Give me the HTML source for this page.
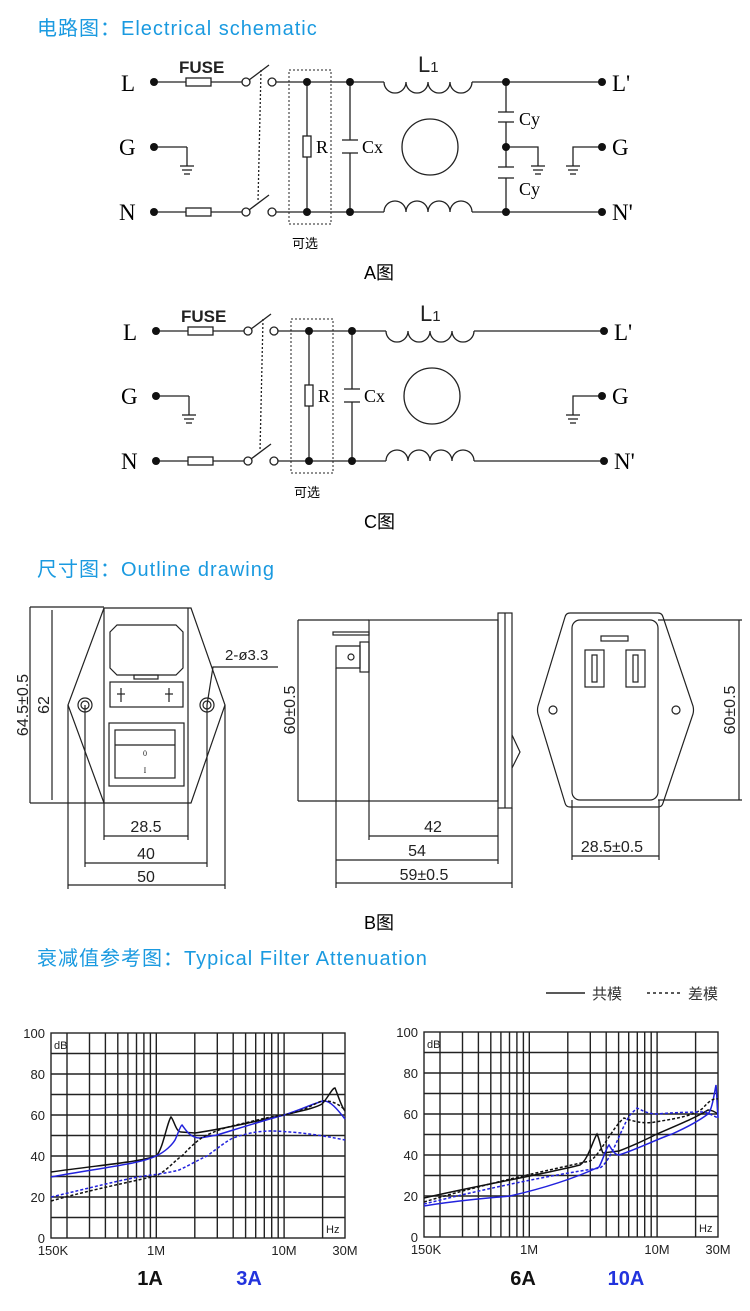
<!DOCTYPE html>
<html><head><meta charset="utf-8"><style>
html,body{margin:0;padding:0;background:#fff;}
svg{display:block;}
.t{font-family:"Liberation Sans","Noto Sans CJK SC",sans-serif;}
.s{font-family:"Liberation Serif","Noto Serif CJK SC",serif;}
.ti{letter-spacing:1px;}
</style></head><body>
<svg width="750" height="1311" viewBox="0 0 750 1311" xmlns="http://www.w3.org/2000/svg">
<defs>
<g id="gnd"><line x1="-7" y1="0" x2="7" y2="0"/><line x1="-5" y1="4" x2="5" y2="4"/><line x1="-3" y1="8" x2="3" y2="8"/></g>
<g id="coilD"><path d="M0,0 a11,11 0 0 0 22,0 a11,11 0 0 0 22,0 a11,11 0 0 0 22,0 a11,11 0 0 0 22,0" fill="none"/></g>
<g id="coilU"><path d="M0,0 a11,11 0 0 1 22,0 a11,11 0 0 1 22,0 a11,11 0 0 1 22,0 a11,11 0 0 1 22,0" fill="none"/></g>
<g id="sch" stroke="#222" stroke-width="1.3" fill="none">
 <line x1="154" y1="82" x2="186" y2="82"/><rect x="186" y="78" width="25" height="8" fill="#fff"/>
 <line x1="211" y1="82" x2="242" y2="82"/><circle cx="246" cy="82" r="4" fill="#fff"/>
 <line x1="249" y1="80" x2="269" y2="65"/>
 <circle cx="272" cy="82" r="4" fill="#fff"/><line x1="276" y1="82" x2="384" y2="82"/>
 <use href="#coilD" x="384" y="82"/><line x1="472" y1="82" x2="602" y2="82"/>
 <line x1="154" y1="212" x2="186" y2="212"/><rect x="186" y="208" width="25" height="8" fill="#fff"/>
 <line x1="211" y1="212" x2="242" y2="212"/><circle cx="246" cy="212" r="4" fill="#fff"/>
 <line x1="249" y1="210" x2="269" y2="195"/>
 <circle cx="272" cy="212" r="4" fill="#fff"/><line x1="276" y1="212" x2="384" y2="212"/>
 <use href="#coilU" x="384" y="212"/><line x1="472" y1="212" x2="602" y2="212"/>
 <line x1="261" y1="70" x2="258" y2="202" stroke-dasharray="2,2"/>
 <rect x="289" y="70" width="42" height="154" stroke-dasharray="2,2" stroke-width="1"/>
 <line x1="307" y1="82" x2="307" y2="136"/><rect x="303" y="136" width="8" height="21" fill="#fff"/><line x1="307" y1="157" x2="307" y2="212"/>
 <line x1="350" y1="82" x2="350" y2="140"/><line x1="342" y1="140" x2="358" y2="140"/><line x1="342" y1="153" x2="358" y2="153"/><line x1="350" y1="153" x2="350" y2="212"/>
 <line x1="154" y1="147" x2="187" y2="147"/><line x1="187" y1="147" x2="187" y2="166"/><use href="#gnd" x="187" y="166"/>
 <circle cx="430" cy="147" r="28"/>
</g>
<g id="dots" fill="#111">
 <circle cx="154" cy="82" r="4"/><circle cx="154" cy="147" r="4"/><circle cx="154" cy="212" r="4"/>
 <circle cx="307" cy="82" r="4"/><circle cx="307" cy="212" r="4"/><circle cx="350" cy="82" r="4"/><circle cx="350" cy="212" r="4"/>
 <circle cx="602" cy="82" r="4"/><circle cx="602" cy="212" r="4"/>
</g>
<g id="lbl">
 <text x="121" y="91" class="s" font-size="23">L</text>
 <text x="119" y="155" class="s" font-size="23">G</text>
 <text x="119" y="220" class="s" font-size="23">N</text>
 <text x="179" y="73" class="t" font-size="17" font-weight="bold" fill="#222">FUSE</text>
 <text x="316" y="153" class="s" font-size="18">R</text>
 <text x="362" y="153" class="s" font-size="18">Cx</text>
 <text x="418" y="72" class="t" font-size="22" fill="#222">L<tspan font-size="15">1</tspan></text>
 <text x="612" y="91" class="s" font-size="23">L'</text>
 <text x="612" y="220" class="s" font-size="23">N'</text>
 <text x="292" y="248" class="t" font-size="13">可选</text>
</g>
</defs>

<text x="37" y="35" class="t ti" font-size="20" fill="#1a9ae0">电路图：Electrical schematic</text>
<text x="37" y="576" class="t ti" font-size="20" fill="#1a9ae0">尺寸图：Outline drawing</text>
<text x="37" y="965" class="t ti" font-size="20" fill="#1a9ae0">衰减值参考图：Typical Filter Attenuation</text>

<use href="#sch"/><use href="#dots"/><use href="#lbl"/>
<g stroke="#222" stroke-width="1.3" fill="none">
 <line x1="506" y1="82" x2="506" y2="112"/><line x1="498" y1="112" x2="514" y2="112"/><line x1="498" y1="122" x2="514" y2="122"/>
 <line x1="506" y1="122" x2="506" y2="167"/><line x1="498" y1="167" x2="514" y2="167"/><line x1="498" y1="178" x2="514" y2="178"/>
 <line x1="506" y1="178" x2="506" y2="212"/>
 <polyline points="506,147 538,147 538,166"/><use href="#gnd" x="538" y="166"/>
 <polyline points="602,147 573,147 573,166"/><use href="#gnd" x="573" y="166"/>
</g>
<g fill="#111"><circle cx="506" cy="82" r="4"/><circle cx="506" cy="147" r="4"/><circle cx="506" cy="212" r="4"/><circle cx="602" cy="147" r="4"/></g>
<text x="519" y="125" class="s" font-size="18">Cy</text>
<text x="519" y="195" class="s" font-size="18">Cy</text>
<text x="612" y="155" class="s" font-size="23">G</text>
<text x="364" y="279" class="t" font-size="18">A图</text>

<g transform="translate(2,249)">
<use href="#sch"/><use href="#dots"/><use href="#lbl"/>
<g stroke="#222" stroke-width="1.3" fill="none"><polyline points="600,147 571,147 571,166"/><use href="#gnd" x="571" y="166"/></g>
<circle cx="600" cy="147" r="4" fill="#111"/>
<text x="610" y="155" class="s" font-size="23">G</text>
</g>
<text x="364" y="528" class="t" font-size="18">C图</text>

<g stroke="#222" stroke-width="1.2" fill="none">
 <polygon points="104,608 191,608 225,705 191,803 104,803 68,705"/>
 <line x1="104" y1="608" x2="104" y2="803"/><line x1="188" y1="608" x2="188" y2="803"/>
 <path d="M110,632 L117,625 L176,625 L183,632 L183,668 L176,675 L117,675 L110,668 Z"/>
 <rect x="134" y="675" width="24" height="4"/>
 <rect x="110" y="682" width="73" height="25"/>
 <circle cx="85" cy="705" r="7"/><circle cx="85" cy="705" r="4"/>
 <circle cx="207" cy="705" r="7"/><circle cx="207" cy="705" r="4"/>
 <rect x="109" y="723" width="75" height="63"/>
 <rect x="115" y="730" width="60" height="48"/><line x1="115" y1="745" x2="175" y2="745"/>
 <line x1="121" y1="688" x2="121" y2="702"/><line x1="169" y1="688" x2="169" y2="702"/>
 <line x1="117" y1="694" x2="125" y2="694"/><line x1="165" y1="694" x2="173" y2="694"/>
 <polyline points="207,705 213,667 278,667"/>
 <line x1="30" y1="607" x2="104" y2="607"/><line x1="30" y1="803" x2="104" y2="803"/>
 <line x1="30" y1="607" x2="30" y2="803"/><line x1="52" y1="610" x2="52" y2="800"/>
 <line x1="104" y1="803" x2="104" y2="840"/><line x1="188" y1="803" x2="188" y2="840"/>
 <line x1="104" y1="836" x2="188" y2="836"/>
 <line x1="85" y1="705" x2="85" y2="867"/><line x1="207" y1="705" x2="207" y2="867"/>
 <line x1="85" y1="863" x2="207" y2="863"/>
 <line x1="68" y1="705" x2="68" y2="889"/><line x1="225" y1="705" x2="225" y2="889"/>
 <line x1="68" y1="885" x2="225" y2="885"/>
 <rect x="369" y="620" width="129" height="181"/>
 <rect x="498" y="613" width="14" height="195"/><line x1="505" y1="613" x2="505" y2="808"/>
 <rect x="333" y="632" width="36" height="3"/>
 <rect x="360" y="642" width="9" height="30"/>
 <path d="M336,646 L360,646 L360,668 L336,668 Z"/><circle cx="351" cy="657" r="3"/>
 <path d="M512,735 L520,752 L512,768"/>
 <line x1="298" y1="620" x2="369" y2="620"/><line x1="298" y1="801" x2="369" y2="801"/>
 <line x1="298" y1="620" x2="298" y2="801"/>
 <line x1="369" y1="801" x2="369" y2="840"/><line x1="498" y1="808" x2="498" y2="864"/>
 <line x1="336" y1="668" x2="336" y2="888"/><line x1="512" y1="808" x2="512" y2="888"/>
 <line x1="369" y1="836" x2="498" y2="836"/><line x1="336" y1="860" x2="498" y2="860"/><line x1="336" y1="883" x2="512" y2="883"/>
 <path d="M570,613 L658,613 Q662,613 663,617 L693,706 Q694,710 693,714 L663,803 Q662,807 658,807 L570,807 Q566,807 565,803 L538,714 Q537,710 538,706 L565,617 Q566,613 570,613 Z"/>
 <rect x="572" y="620" width="86" height="180" rx="8"/>
 <rect x="601" y="636" width="27" height="5"/>
 <rect x="585" y="650" width="19" height="37"/><rect x="592" y="655" width="5" height="27"/>
 <rect x="626" y="650" width="19" height="37"/><rect x="633" y="655" width="5" height="27"/>
 <circle cx="553" cy="710" r="4"/><circle cx="676" cy="710" r="4"/>
 <line x1="658" y1="620" x2="742" y2="620"/><line x1="658" y1="800" x2="742" y2="800"/>
 <line x1="739" y1="620" x2="739" y2="800"/>
 <line x1="572" y1="800" x2="572" y2="860"/><line x1="659" y1="800" x2="659" y2="860"/>
 <line x1="572" y1="856" x2="659" y2="856"/>
</g>
<g class="t" font-size="16" fill="#222">
 <text x="145" y="756" font-size="8" class="s" text-anchor="middle">0</text>
 <text x="145" y="773" font-size="8" class="s" text-anchor="middle">I</text>
 <text x="225" y="660" font-size="15">2-ø3.3</text>
 <text x="146" y="832" text-anchor="middle">28.5</text>
 <text x="146" y="859" text-anchor="middle">40</text>
 <text x="146" y="882" text-anchor="middle">50</text>
 <text transform="translate(28,705) rotate(-90)" text-anchor="middle">64.5±0.5</text>
 <text transform="translate(49,705) rotate(-90)" text-anchor="middle">62</text>
 <text transform="translate(295,710) rotate(-90)" text-anchor="middle">60±0.5</text>
 <text x="433" y="832" text-anchor="middle">42</text>
 <text x="417" y="856" text-anchor="middle">54</text>
 <text x="424" y="880" text-anchor="middle">59±0.5</text>
 <text transform="translate(735,710) rotate(-90)" text-anchor="middle">60±0.5</text>
 <text x="612" y="852" text-anchor="middle">28.5±0.5</text>
</g>
<text x="364" y="929" class="t" font-size="18">B图</text>

<line x1="546" y1="993" x2="585" y2="993" stroke="#222" stroke-width="1.5"/>
<text x="592" y="999" class="t" font-size="15" fill="#333">共模</text>
<line x1="647" y1="993" x2="681" y2="993" stroke="#222" stroke-width="1.5" stroke-dasharray="3,3"/>
<text x="688" y="999" class="t" font-size="15" fill="#333">差模</text>

<defs>
<g id="grid" stroke="#222" stroke-width="1.4" fill="none">
 <rect x="0" y="0" width="294" height="205"/>
 <path d="M0,20.5H294M0,41H294M0,61.5H294M0,82H294M0,102.5H294M0,123H294M0,143.5H294M0,164H294M0,184.5H294
 M16,0V205M38.5,0V205M54.4,0V205M66.8,0V205M76.9,0V205M85.5,0V205M92.9,0V205M99.4,0V205M105.3,0V205M143.8,0V205M166.3,0V205M182.2,0V205M194.6,0V205M204.7,0V205M213.3,0V205M220.7,0V205M227.2,0V205M233.1,0V205M271.6,0V205"/>
</g>
<g id="axl" class="t" font-size="13" fill="#222">
 <text x="-6" y="5" text-anchor="end">100</text><text x="-6" y="46" text-anchor="end">80</text>
 <text x="-6" y="87" text-anchor="end">60</text><text x="-6" y="128" text-anchor="end">40</text>
 <text x="-6" y="169" text-anchor="end">20</text><text x="-6" y="210" text-anchor="end">0</text>
 <text x="3" y="16" font-size="11">dB</text><text x="275" y="200" font-size="11">Hz</text>
 <text x="2" y="222" text-anchor="middle">150K</text><text x="105" y="222" text-anchor="middle">1M</text>
 <text x="233" y="222" text-anchor="middle">10M</text><text x="294" y="222" text-anchor="middle">30M</text>
</g>
</defs>

<g transform="translate(51,1033)"><use href="#grid"/><use href="#axl"/></g>
<g fill="none" stroke-width="1.5">
 <path stroke="#111" d="M51,1172 C100,1165 140,1162 156,1156 C163,1150 167,1122 171,1117 C174,1120 176,1132 181,1132 L195,1133 C230,1128 260,1120 284,1115 C305,1110 315,1108 322,1104 C328,1098 332,1088 335,1088 C338,1095 341,1106 345,1111"/>
 <path stroke="#2222dd" d="M51,1177 C100,1168 140,1164 156,1156 C165,1152 172,1145 175,1140 C178,1134 180,1126 182,1125 C186,1130 190,1138 200,1138 L217,1135 C240,1128 265,1120 284,1115 C300,1110 312,1104 323,1101 C330,1100 338,1110 345,1119"/>
 <path stroke="#111" stroke-dasharray="3,2" d="M51,1201 C90,1190 130,1182 156,1176 C168,1170 175,1160 182,1156 C192,1145 200,1138 207,1135 C222,1128 235,1125 245,1123 C265,1118 275,1116 284,1115 C305,1111 315,1103 322,1101 C332,1100 340,1105 345,1110"/>
 <path stroke="#2222dd" stroke-dasharray="3,2" d="M51,1197 C90,1188 120,1180 144,1176 C160,1174 172,1172 179,1170 C190,1165 198,1160 207,1156 C218,1148 225,1142 233,1138 C250,1132 262,1131 272,1131 C300,1132 320,1135 345,1140"/>
</g>
<g transform="translate(424,1032)"><use href="#grid"/><use href="#axl"/></g>
<g fill="none" stroke-width="1.5">
 <path stroke="#111" d="M424,1198 C480,1185 540,1175 580,1165 C588,1160 593,1140 597,1134 C600,1140 601,1150 603,1153 L619,1151 C635,1145 645,1140 657,1134 C680,1124 695,1118 708,1110 C712,1110 715,1112 718,1114"/>
 <path stroke="#2222dd" d="M424,1206 C460,1200 490,1198 510,1196 C545,1188 575,1178 599,1167 C603,1160 606,1148 609,1145 C612,1150 615,1155 619,1155 C640,1148 655,1140 672,1134 C690,1126 700,1120 708,1114 C712,1110 714,1095 716,1085 C717,1095 717,1105 718,1118"/>
 <path stroke="#111" stroke-dasharray="3,2" d="M424,1202 C480,1185 540,1172 590,1161 C600,1155 612,1128 624,1118 C635,1122 645,1124 655,1122 C680,1118 695,1115 703,1108 C710,1100 714,1098 718,1099"/>
 <path stroke="#2222dd" stroke-dasharray="3,2" d="M424,1204 C480,1190 550,1175 600,1168 C612,1160 620,1130 630,1115 L637,1108 C645,1112 650,1114 657,1114 C680,1112 700,1112 705,1112 C712,1115 716,1117 718,1118"/>
</g>
<g class="t" font-size="20" font-weight="bold" text-anchor="middle">
 <text x="150" y="1285" fill="#111">1A</text><text x="249" y="1285" fill="#2233dd">3A</text>
 <text x="523" y="1285" fill="#111">6A</text><text x="626" y="1285" fill="#2233dd">10A</text>
</g>
</svg>
</body></html>
